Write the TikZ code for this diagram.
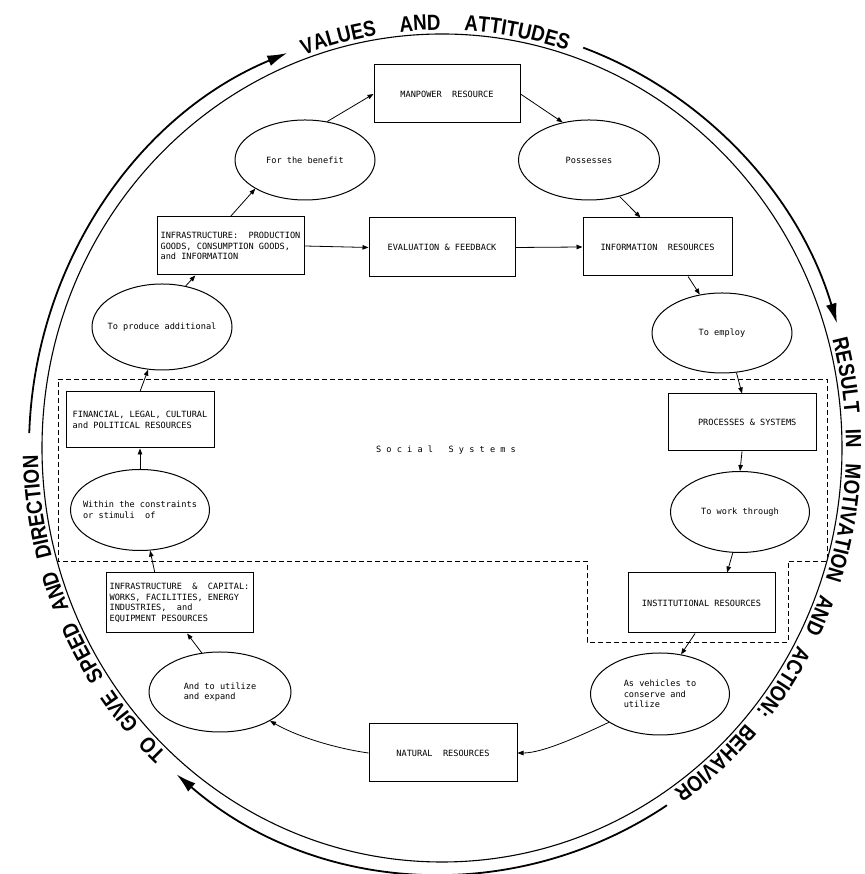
\documentclass[tikz,border=0pt]{standalone}
\usepackage{fontspec}
\usetikzlibrary{shapes.geometric,arrows.meta,decorations.text}
\newfontfamily\boxfont{DejaVu Sans Mono}
\newfontfamily\arcfont{Liberation Sans}[FakeStretch=0.85]
\newcommand\arcfmt{\arcfont\bfseries\fontsize{22}{22}\selectfont}
\newcommand\boxfmt{\boxfont\fontsize{8.6}{10.5}\selectfont}
\begin{document}
\begin{tikzpicture}[x=1pt,y=1pt,
  box/.style={draw,line width=1pt,rectangle,minimum width=147pt,minimum height=58pt,inner sep=2pt,align=left,font=\boxfmt},
  oval/.style={draw,line width=1pt,ellipse,minimum width=140pt,minimum height=80pt,inner sep=0pt},
  ovaltext/.style={align=left,font=\boxfmt,inner sep=0pt},
  conn/.style={line width=0.8pt,-{Triangle[length=6pt,width=4.5pt]}},
  bigarc/.style={line width=1.8pt,-{Latex[length=20pt,width=11pt]}},
  social/.style={line width=0.9pt,dash pattern=on 5pt off 3pt},
  arctext/.style={decorate,decoration={text along path,text align={fit to path stretching spaces},text={|\arcfmt|#1}}}
]
\useasboundingbox (0,0) rectangle (864,874);
\coordinate (ctr) at (442,426);

% inner ring
\draw[line width=1.1pt] (ctr) ellipse[x radius=400,y radius=414];

% outer arrows and lettering
\begin{scope}[shift={(442,426)}]
\draw[bigarc] (178:413 and 426) arc[start angle=178,end angle=112,x radius=413,y radius=426];
\draw[bigarc] (70:413 and 426) arc[start angle=70,end angle=17,x radius=413,y radius=426];
\draw[bigarc] (-57:413 and 426) arc[start angle=-57,end angle=-130,x radius=413,y radius=426];
\path[arctext={VALUES AND ATTITUDES}] (110:404 and 418) arc[start angle=110,end angle=72,x radius=404,y radius=418];
\path[arctext={RESULT IN MOTIVATION AND ACTION: BEHAVIOR}] (15:404 and 418) arc[start angle=15,end angle=-55,x radius=404,y radius=418];
\path[arctext={TO GIVE SPEED AND DIRECTION}] (227:404 and 418) arc[start angle=227,end angle=181,x radius=404,y radius=418];
\end{scope}

% social systems region
\draw[social] (58,495) -- (827,495) -- (827,313) -- (788,313) -- (788,232) -- (587,232) -- (587,313) -- (58,313) -- cycle;
\node[font=\boxfmt] (soc) at (446,424) {S o c i a l\ \ \ S y s t e m s};

% boxes
\node[box,minimum width=146pt] (man) at (447,780) {MANPOWER\ \ RESOURCE};
\node[box] (infP) at (230.5,628) {INFRASTRUCTURE:\ \ PRODUCTION\\GOODS, CONSUMPTION GOODS,\\and INFORMATION};
\node[box,minimum width=146pt,minimum height=59pt] (eval) at (442,626.5) {EVALUATION \& FEEDBACK};
\node[box,minimum width=149pt] (info) at (657.5,627) {INFORMATION\ \ RESOURCES};
\node[box,minimum width=148pt,minimum height=56pt] (fin) at (140,454) {FINANCIAL, LEGAL, CULTURAL\\and POLITICAL RESOURCES};
\node[box,minimum width=148pt,minimum height=57pt] (proc) at (742,451.5) {\ \ PROCESSES \& SYSTEMS};
\node[box,minimum height=60pt] (infC) at (179.5,271) {INFRASTRUCTURE\ \ \&\ \ CAPITAL:\\WORKS, FACILITIES, ENERGY\\INDUSTRIES,\ \ and\\EQUIPMENT PESOURCES};
\node[box,minimum height=60pt] (inst) at (701.5,271) {INSTITUTIONAL RESOURCES};
\node[box,minimum width=148pt] (nat) at (443,121) {NATURAL\ \ RESOURCES};

% ovals
\node[oval] (benefit) at (305,714) {};
\node[ovaltext] (benefit-t) at (benefit) {For the benefit};
\node[oval,minimum width=141pt] (poss) at (589,714) {};
\node[ovaltext] (poss-t) at (poss) {Possesses};
\node[oval,minimum height=86pt] (prod) at (162,547) {};
\node[ovaltext] (prod-t) at (prod) {To produce additional};
\node[oval] (employ) at (722,541) {};
\node[ovaltext] (employ-t) at (employ) {To employ};
\node[oval,minimum width=139pt,minimum height=81pt] (within) at (140,364) {};
\node[ovaltext] (within-t) at (within) {Within the constraints\\or stimuli\ \ of};
\node[oval,minimum width=139pt,minimum height=81pt] (work) at (740,362) {};
\node[ovaltext] (work-t) at (work) {To work through};
\node[oval,minimum width=142pt] (utilize) at (220,182) {};
\node[ovaltext] (utilize-t) at (utilize) {And to utilize\\and expand};
\node[oval,minimum width=139pt,minimum height=82pt] (vehic) at (660,180) {};
\node[ovaltext] (vehic-t) at (vehic) {As vehicles to\\conserve and\\utilize};

% connectors
\draw[conn] (benefit.60) -- (man.west);
\draw[conn] (man.east) -- (poss.125);
\draw[conn] (poss.-50) -- (info.120);
\draw[conn] (infP.north) -- (benefit.210);
\draw[conn] (prod.60) -- (infP.220);
\draw[conn] (infP.east) -- (eval.west);
\draw[conn] (eval.east) -- (info.west);
\draw[conn] (info.-44) -- (employ.120);
\draw[conn] (employ.-70) -- (proc.north);
\draw[conn] (proc.south) -- (work.north);
\draw[conn] (work.-100) -- (inst.50);
\draw[conn] (inst.-102) -- (vehic.62);
\draw[conn] (vehic.209) to[out=205,in=0,looseness=0.7] (nat.east);
\draw[conn] (nat.west) to[out=172,in=-30,looseness=0.8] (utilize.-30);
\draw[conn] (utilize.115) -- (infC.-76);
\draw[conn] (infC.129) -- (within.-76);
\draw[conn] (within.north) -- (fin.south);
\draw[conn] (fin.north) -- (prod.-108);
\end{tikzpicture}
\end{document}
